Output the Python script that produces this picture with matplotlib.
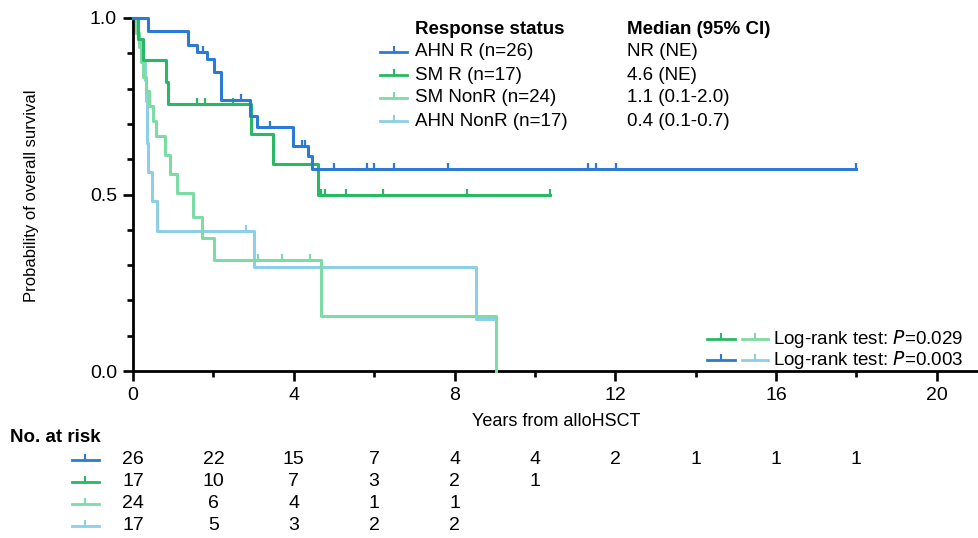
import matplotlib
matplotlib.use("Agg")
import matplotlib.pyplot as plt
import matplotlib.transforms as mtransforms
from matplotlib.lines import Line2D
from matplotlib.ticker import MultipleLocator, FormatStrFormatter
import numpy as np

plt.rcParams["font.family"] = ["Liberation Sans", "DejaVu Sans"]

W, H = 979, 538

# colours of the four groups
C_AHN_R = "#2a7ad6"
C_SM_R = "#28b866"
C_SM_NONR = "#7ddca4"
C_AHN_NONR = "#8ccfe6"

# Kaplan-Meier steps: event time (years) and survival after the drop
ahn_r_t = [0.38, 1.38, 1.58, 1.83, 2.02, 2.2, 2.9, 3.08, 3.98, 4.36, 4.45]
ahn_r_s = [0.962, 0.923, 0.904, 0.885, 0.846, 0.769, 0.723, 0.69, 0.637, 0.609, 0.571]
ahn_r_end = 18.0
ahn_r_cens = [1.75, 2.69, 3.41, 4.21, 4.29, 5.01, 5.81, 6.0, 6.5, 7.83, 11.33, 11.53, 12.03, 18.0]

sm_r_t = [0.13, 0.26, 0.81, 0.88, 2.93, 3.48, 4.6]
sm_r_s = [0.941, 0.882, 0.818, 0.755, 0.672, 0.587, 0.5]
sm_r_end = 10.37
sm_r_cens = [1.58, 1.79, 2.5, 4.69, 4.77, 5.31, 6.21, 8.32, 10.37]

sm_nonr_t = [0.08, 0.14, 0.2, 0.26, 0.32, 0.40, 0.50, 0.58, 0.80, 0.92, 1.09, 1.50, 1.71, 2.02, 4.69, 9.03]
sm_nonr_s = [0.958, 0.917, 0.875, 0.833, 0.792, 0.75, 0.708, 0.667, 0.613, 0.557, 0.503, 0.437, 0.377, 0.314, 0.157, 0.0]
sm_nonr_end = 9.03
sm_nonr_cens = [3.1, 3.7, 4.4]

ahn_nonr_t = [0.12, 0.22, 0.30, 0.33, 0.36, 0.38, 0.47, 0.59, 3.0, 8.53]
ahn_nonr_s = [0.941, 0.882, 0.824, 0.765, 0.647, 0.563, 0.481, 0.398, 0.296, 0.148]
ahn_nonr_end = 8.97
ahn_nonr_cens = [2.8]

groups = ["AHN R (n=26)", "SM R (n=17)", "SM NonR (n=24)", "AHN NonR (n=17)"]
medians = ["NR (NE)", "4.6 (NE)", "1.1 (0.1-2.0)", "0.4 (0.1-0.7)"]
logrank = ["0.029", "0.003"]

risk_times = [0, 2, 4, 6, 8, 10, 12, 14, 16, 18]
risk_ahn_r = [26, 22, 15, 7, 4, 4, 2, 1, 1, 1]
risk_sm_r = [17, 10, 7, 3, 2, 1]
risk_sm_nonr = [24, 6, 4, 1, 1]
risk_ahn_nonr = [17, 5, 3, 2, 2]


def step_arrays(t, s, end):
    x = np.concatenate([[0.0], t, [end]])
    y = np.concatenate([[1.0], s, [s[-1]]])
    return x, y


def surv_at(t, s, when):
    idx = np.searchsorted(t, when, side="right")
    return 1.0 if idx == 0 else s[idx - 1]


def fx(x):
    return x / W


def fy(y):
    return 1 - y / H


fig = plt.figure(figsize=(W / 100, H / 100), dpi=100)
ax = fig.add_axes([fx(133), fy(371), fx(979) - fx(133), fy(18) - fy(371)])

curves = [
    (ahn_nonr_t, ahn_nonr_s, ahn_nonr_end, ahn_nonr_cens, C_AHN_NONR),
    (sm_nonr_t, sm_nonr_s, sm_nonr_end, sm_nonr_cens, C_SM_NONR),
    (sm_r_t, sm_r_s, sm_r_end, sm_r_cens, C_SM_R),
    (ahn_r_t, ahn_r_s, ahn_r_end, ahn_r_cens, C_AHN_R),
]
for t, s, end, cens, col in curves:
    x, y = step_arrays(t, s, end)
    ax.step(x, y, where="post", color=col, lw=2.2, clip_on=False, zorder=3)
    cy = [surv_at(t, s, c) for c in cens]
    ax.plot(cens, cy, ls="none", marker=2, ms=4.5, mew=1.6, color=col,
            clip_on=False, zorder=3)

ax.set_xlim(0, 21.05)
ax.set_ylim(0, 1.0)
ax.spines["top"].set_visible(False)
ax.spines["right"].set_visible(False)
for sp in ("left", "bottom"):
    ax.spines[sp].set_linewidth(2.0)
ax.xaxis.set_major_locator(MultipleLocator(4))
ax.xaxis.set_minor_locator(MultipleLocator(2))
ax.yaxis.set_major_locator(MultipleLocator(0.5))
ax.yaxis.set_minor_locator(MultipleLocator(0.1))
ax.yaxis.set_major_formatter(FormatStrFormatter("%.1f"))
ax.tick_params(which="major", length=7.5, width=1.9, labelsize=14, pad=4)
ax.tick_params(which="minor", length=4.5, width=1.9)

fig.text(fx(32), fy(196), "Probability of overall survival", rotation=90,
         ha="center", va="center", fontsize=12)
fig.text(fx(556), fy(422), "Years from alloHSCT", ha="center", va="center",
         fontsize=13)


def glyph(x0, x1, y, color):
    fig.add_artist(Line2D([fx(x0), fx(x1)], [fy(y), fy(y)], color=color, lw=2.0,
                          transform=fig.transFigure))
    xm = (x0 + x1) / 2
    fig.add_artist(Line2D([fx(xm), fx(xm)], [fy(y), fy(y - 5)], color=color, lw=1.5,
                          transform=fig.transFigure))


# legend block
colors = [C_AHN_R, C_SM_R, C_SM_NONR, C_AHN_NONR]
fig.text(fx(415), fy(29), "Response status", fontsize=13.5, fontweight="bold",
         ha="left", va="center")
fig.text(fx(627), fy(29), "Median (95% CI)", fontsize=13.5, fontweight="bold",
         ha="left", va="center")
row_y = [52, 75, 98, 121]
for name, med, col, yy in zip(groups, medians, colors, row_y):
    glyph(380, 407, yy, col)
    fig.text(fx(415), fy(yy), name, fontsize=13.5, ha="left", va="center")
    fig.text(fx(627), fy(yy), med, fontsize=13.5, ha="left", va="center")

# log-rank annotations
for (ca, cb), p, yy in zip([(C_SM_R, C_SM_NONR), (C_AHN_R, C_AHN_NONR)], logrank, [339, 360]):
    glyph(707, 735, yy, ca)
    glyph(742, 768, yy, cb)
    fig.text(fx(773), fy(yy), "Log-rank test: $\\it{P}$=" + p, fontsize=13.5,
             ha="left", va="center")

# number at risk table
fig.text(fx(10), fy(437), "No. at risk", fontsize=13.5, fontweight="bold",
         ha="left", va="center")
trans = mtransforms.blended_transform_factory(ax.transData, fig.transFigure)
risk_rows = [risk_ahn_r, risk_sm_r, risk_sm_nonr, risk_ahn_nonr]
risk_y = [460, 482, 504, 526]
for row, col, yy in zip(risk_rows, colors, risk_y):
    glyph(72, 99, yy, col)
    for tt, n in zip(risk_times, row):
        ax.text(tt, fy(yy), str(n), transform=trans, fontsize=14,
                ha="center", va="center", clip_on=False)

fig.savefig("out.png", dpi=100)
